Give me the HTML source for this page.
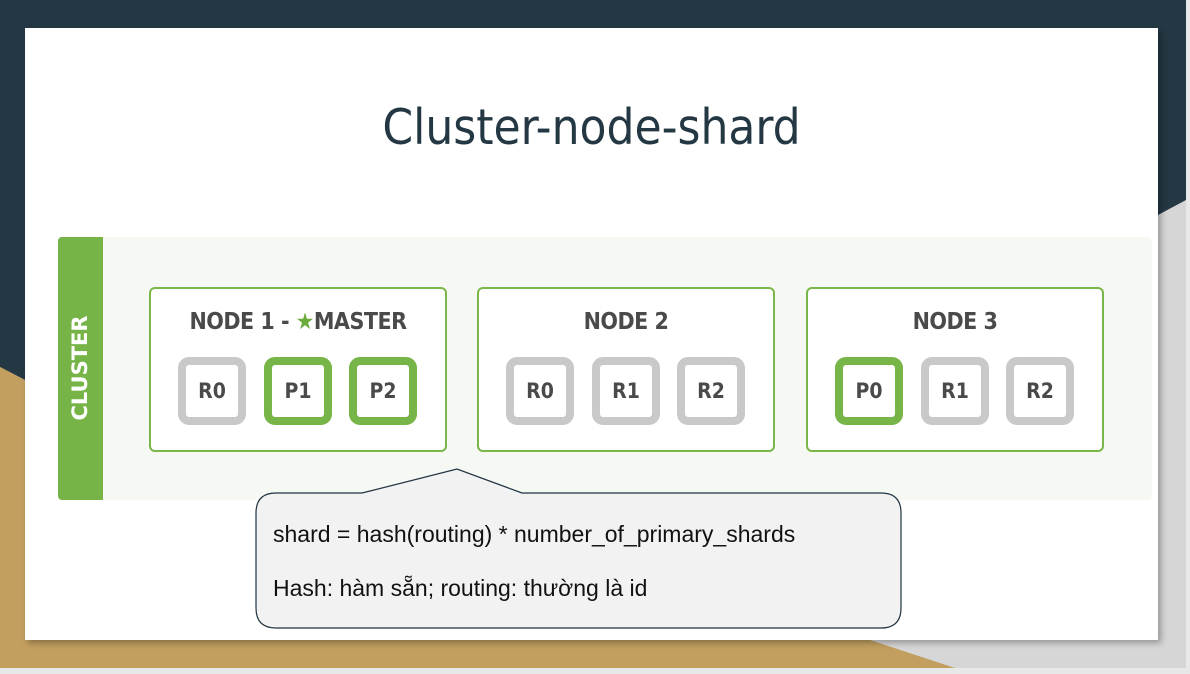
<!DOCTYPE html>
<html><head><meta charset="utf-8"><style>
body{margin:0;width:1190px;height:674px;overflow:hidden;position:relative;background:#d9d9d9;font-family:"Liberation Sans",sans-serif}
.abs{position:absolute}
.node{position:absolute;top:287px;width:294px;height:161px;border:2px solid #7ab648;border-radius:6px;background:#fff}
.node h3{margin:0;position:absolute;top:20px;left:0;right:0;text-align:center;font:bold 23px "DejaVu Sans Condensed","Liberation Sans",sans-serif;color:#4a4a4a;letter-spacing:-0.5px}
.sh{position:absolute;top:68px;width:52px;height:52px;border:8px solid #c9c9c9;border-radius:11px;background:#fff;text-align:center;font:bold 21px "DejaVu Sans Condensed","Liberation Sans",sans-serif;line-height:52px;color:#4a4a4a}
.g{border-color:#78b548}
</style></head><body>
<svg class="abs" style="left:0;top:0" width="1190" height="674">
<rect x="0" y="0" width="1190" height="674" fill="#d6d6d6"/>
<polygon points="0,0 1186,0 1186,200 1158,215 0,215" fill="#243844"/>
<polygon points="0,215 0,367 25,380 25,215" fill="#243844"/>
<polygon points="0,367 25,380 25,640 870,640 955,668 0,668" fill="#c29f5f"/>
<rect x="0" y="668" width="1190" height="6" fill="#e8e8e8"/>
<rect x="1186" y="0" width="4" height="674" fill="#e8e8e8"/>
</svg>
<div class="abs" style="left:25px;top:28px;width:1133px;height:612px;background:#fff;box-shadow:3px 3px 6px rgba(0,0,0,.3)"></div>
<div class="abs" style="left:0;top:99px;width:1183px;text-align:center;font:49px 'DejaVu Sans Condensed','Liberation Sans',sans-serif;color:#243844">Cluster-node-shard</div>
<div class="abs" style="left:58px;top:237px;width:1094px;height:263px;background:#f6f8f4;border-radius:4px"></div>
<div class="abs" style="left:58px;top:237px;width:45px;height:263px;background:#77b448;border-radius:4px 0 0 4px"></div>
<div class="abs" style="left:58px;top:237px;width:45px;height:263px;"><div style="position:absolute;left:22px;top:131px;transform:translate(-50%,-50%) rotate(-90deg);font:bold 21px 'DejaVu Sans','Liberation Sans',sans-serif;color:#fff;white-space:nowrap">CLUSTER</div></div>
<div class="node" style="left:149px"><h3>NODE 1 - <span style="color:#6aab3c">★</span>MASTER</h3>
<div class="sh" style="left:27px">R0</div><div class="sh g" style="left:113px">P1</div><div class="sh g" style="left:198px">P2</div></div>
<div class="node" style="left:477px"><h3>NODE 2</h3>
<div class="sh" style="left:27px">R0</div><div class="sh" style="left:113px">R1</div><div class="sh" style="left:198px">R2</div></div>
<div class="node" style="left:806px"><h3>NODE 3</h3>
<div class="sh g" style="left:27px">P0</div><div class="sh" style="left:113px">R1</div><div class="sh" style="left:198px">R2</div></div>
<svg class="abs" style="left:0;top:0" width="1190" height="674">
<path d="M276,493 L362,493 L457,469 L522,493 L881,493 Q901,493 901,513 L901,608 Q901,628 881,628 L276,628 Q256,628 256,608 L256,513 Q256,493 276,493 Z" fill="#f2f2f2" stroke="#1f3340" stroke-width="1.2"/>
</svg>
<div class="abs" style="left:273px;top:520px;font-size:23px;line-height:28px;color:#111;letter-spacing:0">shard = hash(routing) * number_of_primary_shards</div>
<div class="abs" style="left:273px;top:574px;font-size:23px;line-height:28px;color:#111;letter-spacing:0">Hash: hàm sẵn; routing: thường là id</div>
</body></html>
